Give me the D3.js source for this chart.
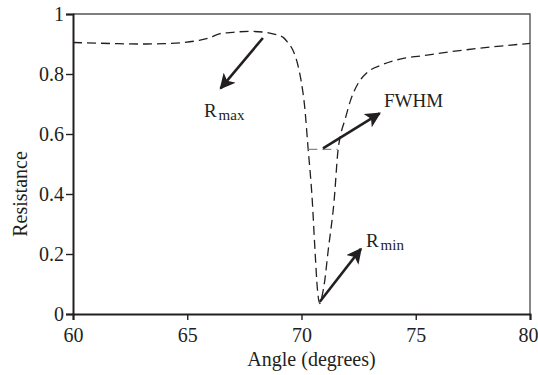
<!DOCTYPE html>
<html>
<head>
<meta charset="utf-8">
<script src="https://cdn.jsdelivr.net/npm/d3@7"></script>
<style>
  body { margin: 0; background: #fff; }
  svg { display: block; }
  svg text { font-family: 'Liberation Serif', 'Times New Roman', serif; }
</style>
</head>
<body>
<div id="chart"></div>
<script>
// resonance curve
const angle = [60, 61, 62, 63, 64, 64.7, 65.5, 66.0, 66.4, 67.0, 67.7, 68.3, 68.8, 69.2, 69.4,
  69.62, 69.84, 70.0, 70.14, 70.28, 70.47, 70.59, 70.7, 70.8, 70.9, 71.0, 71.17, 71.43, 71.6,
  71.72, 71.9, 72.15, 72.48, 72.92, 73.5, 74.45, 75.2, 76.5, 78.7, 80];
const resistance = [0.905, 0.903, 0.901, 0.900, 0.901, 0.904, 0.912, 0.921, 0.934, 0.939, 0.942, 0.940, 0.933, 0.922, 0.905,
  0.88, 0.83, 0.77, 0.69, 0.56, 0.38, 0.213, 0.08, 0.035, 0.06, 0.102, 0.213, 0.38, 0.547,
  0.60, 0.647, 0.713, 0.769, 0.808, 0.83, 0.852, 0.86, 0.874, 0.893, 0.902];

const xTicks = [60, 65, 70, 75, 80];
const yTicks = [0, 0.2, 0.4, 0.6, 0.8, 1];

// half-maximum marker
const fwhmLine = [[70.3, 0.549], [71.58, 0.549]];

// annotation arrows [from, to] and labels
const arrows = [
  [[68.31, 0.92], [66.46, 0.752]],
  [[70.94, 0.552], [73.42, 0.669]],
  [[70.80, 0.041], [72.6, 0.217]]
];
const labels = [
  {main: "R", sub: "max", x: 65.73, y: 0.657},
  {main: "FWHM", sub: "", x: 73.61, y: 0.691},
  {main: "R", sub: "min", x: 72.82, y: 0.223}
];

const width = 538, height = 375;
const margin = {top: 14, right: 8, bottom: 61, left: 73};
const serif = "'Liberation Serif', 'Times New Roman', serif";

const svg = d3.select('#chart').append('svg')
    .attr('width', width)
    .attr('height', height)
    .attr('font-family', serif);

const x = d3.scaleLinear().domain([60, 80]).range([margin.left, width - margin.right]);
const y = d3.scaleLinear().domain([0, 1]).range([height - margin.bottom, margin.top]);

const ink = '#231f20';

// frame top/right
svg.append('path')
    .attr('d', `M${x(60)},${y(1)}H${x(80)}V${y(0)}`)
    .attr('fill', 'none')
    .attr('stroke', '#555')
    .attr('stroke-width', 1.4);

// axes
const xAxis = svg.append('g')
    .attr('transform', `translate(0,${y(0)})`)
    .call(d3.axisBottom(x).tickValues(xTicks).tickSize(6).tickPadding(8).tickFormat(d3.format('d')));
const yAxis = svg.append('g')
    .attr('transform', `translate(${x(60)},0)`)
    .call(d3.axisLeft(y).tickValues(yTicks).tickSize(7).tickPadding(2).tickFormat(d => d === 0 || d === 1 ? d : d.toFixed(1)));

[xAxis, yAxis].forEach(g => {
    g.attr('font-family', serif).attr('font-size', 20);
    g.select('.domain').attr('stroke', ink).attr('stroke-width', 2);
    g.selectAll('.tick line').attr('stroke', ink).attr('stroke-width', 1.4);
    g.selectAll('.tick text').attr('fill', ink);
});
// last label sits at the edge of the picture
xAxis.selectAll('.tick text').filter(d => d === 80).attr('dx', -2);

// axis titles
svg.append('text')
    .attr('x', (x(60) + x(80)) / 2 + 10)
    .attr('y', 366)
    .attr('text-anchor', 'middle')
    .attr('fill', ink)
    .attr('font-size', 20)
    .text('Angle (degrees)');

svg.append('text')
    .attr('transform', `translate(27,${y(0.4)})rotate(-90)`)
    .attr('text-anchor', 'middle')
    .attr('fill', ink)
    .attr('font-size', 20)
    .text('Resistance');

// curve
const line = d3.line()
    .x(d => x(d[0]))
    .y(d => y(d[1]))
    .curve(d3.curveMonotoneX);

svg.append('path')
    .datum(angle.map((a, i) => [a, resistance[i]]))
    .attr('d', line)
    .attr('fill', 'none')
    .attr('stroke', ink)
    .attr('stroke-width', 1.3)
    .attr('stroke-dasharray', '9,5');

svg.append('path')
    .datum(fwhmLine)
    .attr('d', d3.line().x(d => x(d[0])).y(d => y(d[1])))
    .attr('fill', 'none')
    .attr('stroke', '#888')
    .attr('stroke-width', 1.3)
    .attr('stroke-dasharray', '9,5');

// arrows
svg.append('defs').append('marker')
    .attr('id', 'head')
    .attr('viewBox', '0 0 10 10')
    .attr('refX', 9)
    .attr('refY', 5)
    .attr('markerWidth', 6)
    .attr('markerHeight', 6)
    .attr('markerUnits', 'strokeWidth')
    .attr('orient', 'auto')
  .append('path')
    .attr('d', 'M0,0L10,5L0,10L2.5,5Z')
    .attr('fill', ink);

svg.selectAll('.arrow')
    .data(arrows)
    .join('line')
    .attr('class', 'arrow')
    .attr('x1', d => x(d[0][0]))
    .attr('y1', d => y(d[0][1]))
    .attr('x2', d => x(d[1][0]))
    .attr('y2', d => y(d[1][1]))
    .attr('stroke', ink)
    .attr('stroke-width', 2.6)
    .attr('marker-end', 'url(#head)');

// labels
const lab = svg.selectAll('.lab')
    .data(labels)
    .join('text')
    .attr('class', 'lab')
    .attr('x', d => x(d.x))
    .attr('y', d => y(d.y))
    .attr('fill', ink)
    .attr('font-size', 19);
lab.append('tspan').text(d => d.main);
lab.append('tspan')
    .attr('dx', 2)
    .attr('dy', 3)
    .attr('font-size', 15)
    .text(d => d.sub);
</script>
</body>
</html>
